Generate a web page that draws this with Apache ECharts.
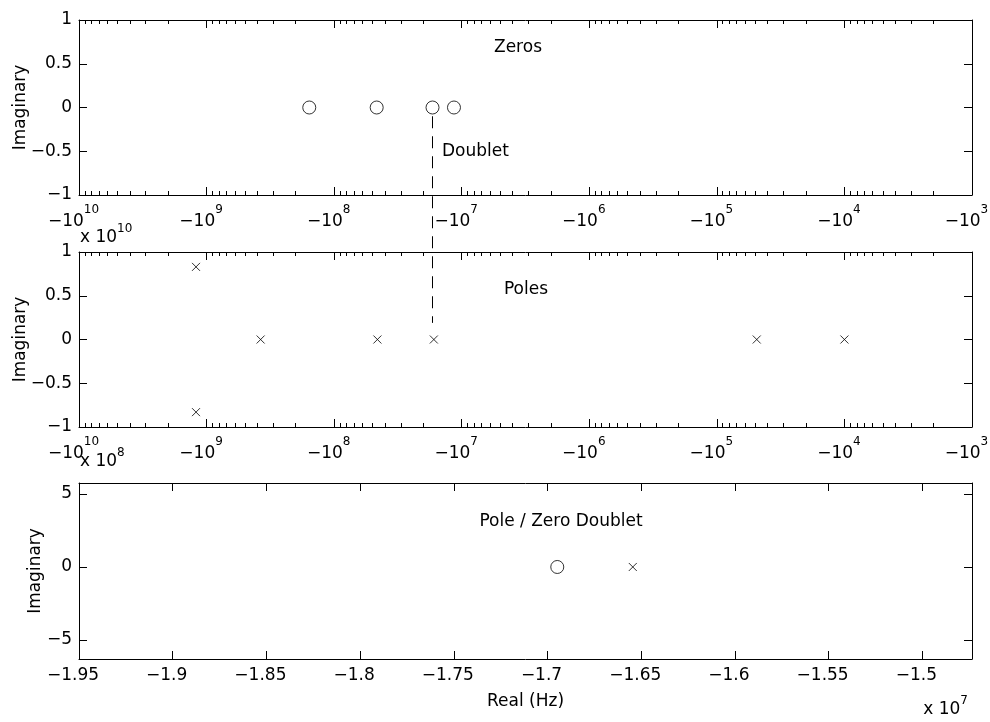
<!DOCTYPE html>
<html>
<head>
<meta charset="utf-8">
<script src="https://cdn.jsdelivr.net/npm/echarts@6/dist/echarts.min.js"></script>
<style>
  html, body { margin: 0; padding: 0; background: #fff; }
  #chart { width: 990px; height: 722px; }
</style>
</head>
<body>
<div id="chart"></div>
<script>
// zeros and poles, real part in Hz
let zerosRe = [-1.567e8, -4.64e7, -1.694e7, -1.15e7];
let zerosIm = [0, 0, 0, 0];
let polesRe = [-1.21e9, -1.21e9, -3.77e8, -4.58e7, -1.654e7, -4.87e4, -1.0e4];
let polesIm = [0.83, -0.83, 0, 0, 0, 0, 0]; // shown x 10^10

// doublet close-up: real in units of 1e7 Hz, imaginary in units of 1e8
let doubletZeroRe = [-1.6948];
let doubletPoleRe = [-1.6545];
let doubletIm = [0];

// ticks
let logDecades = [10, 9, 8, 7, 6, 5, 4, 3];
let imagTicks = [-1, -0.5, 0, 0.5, 1];
let doubletRealTicks = [-1.95, -1.9, -1.85, -1.8, -1.75, -1.7, -1.65, -1.6, -1.55, -1.5];
let doubletImagTicks = [-5, 0, 5];

const FONT = 'DejaVu Sans';
const FS = 17;
const black = '#000';

let minorLog = [];
logDecades.slice(1).forEach(function (d) {
  for (let k = 2; k <= 9; k++) minorLog.push(d + Math.log10(k));
});

function minus(v) {
  return String(v).replace('-', '\u2212');
}

let baseText = { fontFamily: FONT, fontSize: FS, color: black };
let shownLine = { show: true, onZero: false, lineStyle: { color: black, width: 1 } };
let hiddenLine = { show: false, onZero: false };

function logAxes(g) {
  let common = {
    gridIndex: g, type: 'value', min: 3, max: 10, inverse: true,
    splitLine: { show: false }
  };
  let major = { show: true, inside: true, length: 8, customValues: logDecades, lineStyle: { color: black, width: 1 } };
  let minor = { show: true, inside: true, length: 4, customValues: minorLog, lineStyle: { color: black, width: 1 } };
  return [
    Object.assign({}, common, {
      position: 'bottom', axisLine: shownLine, axisTick: major,
      axisLabel: {
        show: true, customValues: logDecades, margin: 9, padding: [0, 11, 0, 0],
        formatter: function (v) { return '{b|\u221210}{s|' + v + '}'; },
        rich: {
          b: { fontFamily: FONT, fontSize: FS, color: black, lineHeight: 36 },
          s: { fontFamily: FONT, fontSize: 12, color: black, lineHeight: 12, verticalAlign: 'top' }
        }
      }
    }),
    Object.assign({}, common, {
      position: 'bottom', axisLine: hiddenLine, axisTick: minor, axisLabel: { show: false }
    }),
    Object.assign({}, common, {
      position: 'top', axisLine: shownLine, axisTick: major, axisLabel: { show: false }
    }),
    Object.assign({}, common, {
      position: 'top', axisLine: hiddenLine, axisTick: minor, axisLabel: { show: false }
    })
  ];
}

function yAxes(g, min, max, ticks, gap) {
  let tick = { show: true, inside: true, length: 8, customValues: ticks, lineStyle: { color: black, width: 1 } };
  return [
    {
      gridIndex: g, type: 'value', position: 'left', min: min, max: max,
      name: 'Imaginary', nameLocation: 'middle', nameGap: gap, nameMoveOverlap: false, nameTextStyle: baseText,
      axisLine: shownLine, axisTick: tick,
      axisLabel: Object.assign({ customValues: ticks, margin: 7, formatter: minus }, baseText),
      splitLine: { show: false }
    },
    {
      gridIndex: g, type: 'value', position: 'right', min: min, max: max,
      axisLine: shownLine, axisTick: tick, axisLabel: { show: false }, splitLine: { show: false }
    }
  ];
}

let circle = { color: 'rgba(0,0,0,0)', borderColor: black, borderWidth: 1 };
let cross = 'path://M0,0L10,10M0,10L10,0';

let realTick = { show: true, inside: true, length: 8, customValues: doubletRealTicks, lineStyle: { color: black, width: 1 } };

let xAxes = logAxes(0).concat(logAxes(1)).concat([
  {
    gridIndex: 2, type: 'value', position: 'bottom', min: -1.95, max: -1.4735,
    name: 'Real (Hz)', nameLocation: 'middle', nameGap: 34, nameTextStyle: baseText,
    axisLine: shownLine, axisTick: realTick,
    axisLabel: Object.assign({ customValues: doubletRealTicks, margin: 8, padding: [0, 12, 0, 0], formatter: minus }, baseText),
    splitLine: { show: false }
  },
  {
    gridIndex: 2, type: 'value', position: 'top', min: -1.95, max: -1.4735,
    axisLine: shownLine, axisTick: realTick, axisLabel: { show: false }, splitLine: { show: false }
  }
]);

let yAxesAll = yAxes(0, -1, 1, imagTicks, 50)
  .concat(yAxes(1, -1, 1, imagTicks, 50))
  .concat(yAxes(2, -6.3, 5.75, doubletImagTicks, 35));

let option = {
  animation: false,
  backgroundColor: '#fff',
  grid: [
    { left: 79, right: 18, top: 20, height: 175, outerBoundsMode: 'none' },
    { left: 79, right: 18, top: 252, height: 175, outerBoundsMode: 'none' },
    { left: 79, right: 18, top: 483, height: 176, outerBoundsMode: 'none' }
  ],
  xAxis: xAxes,
  yAxis: yAxesAll,
  series: [
    {
      type: 'scatter', xAxisIndex: 0, yAxisIndex: 0, symbol: 'circle', symbolSize: 13,
      itemStyle: circle, silent: true,
      data: zerosRe.map(function (r, i) { return [Math.log10(-r), zerosIm[i]]; })
    },
    {
      type: 'scatter', xAxisIndex: 4, yAxisIndex: 2, symbol: cross, symbolSize: 8,
      itemStyle: circle, silent: true,
      data: polesRe.map(function (r, i) { return [Math.log10(-r), polesIm[i]]; })
    },
    {
      type: 'scatter', xAxisIndex: 8, yAxisIndex: 4, symbol: 'circle', symbolSize: 13,
      itemStyle: circle, silent: true,
      data: doubletZeroRe.map(function (r, i) { return [r, doubletIm[i]]; })
    },
    {
      type: 'scatter', xAxisIndex: 8, yAxisIndex: 4, symbol: cross, symbolSize: 8,
      itemStyle: circle, silent: true,
      data: doubletPoleRe.map(function (r, i) { return [r, doubletIm[i]]; })
    }
  ]
};

let chart = echarts.init(document.getElementById('chart'));
chart.setOption(option);

// dashed marker joining the doublet zero and pole across the two log plots
let xd = Math.log10(-zerosRe[2]);
let pTop = chart.convertToPixel({ seriesIndex: 0 }, [xd, -0.1]);
let pMid = chart.convertToPixel({ seriesIndex: 1 }, [xd, 0.19]);

function label(text, x, y, align) {
  return {
    type: 'text', silent: true,
    style: { text: text, x: x, y: y, align: align || 'center', verticalAlign: 'middle', font: FS + 'px "' + FONT + '"', fill: black }
  };
}
function sciLabel(exp, x, y, align) {
  return {
    type: 'text', silent: true,
    style: {
      text: '{a|x 10}{s|' + exp + '}', x: x, y: y, align: align, verticalAlign: 'middle',
      rich: {
        a: { fontFamily: FONT, fontSize: FS, fill: black, lineHeight: 30 },
        s: { fontFamily: FONT, fontSize: 12, fill: black, lineHeight: 12, verticalAlign: 'top' }
      }
    }
  };
}

chart.setOption({
  graphic: [
    {
      type: 'line', silent: true,
      shape: { x1: pTop[0], y1: pTop[1], x2: pMid[0], y2: pMid[1] },
      style: { stroke: black, lineWidth: 1, lineDash: [12, 8] }
    },
    label('Zeros', 518, 48),
    label('Doublet', 442, 152, 'left'),
    label('Poles', 526, 290),
    label('Pole / Zero Doublet', 561, 522),
    sciLabel('10', 80, 238, 'left'),
    sciLabel('8', 80, 462, 'left'),
    sciLabel('7', 968, 710, 'right')
  ]
});
</script>
</body>
</html>
